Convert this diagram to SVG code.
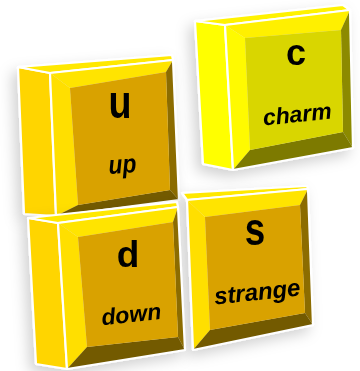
<svg xmlns="http://www.w3.org/2000/svg" width="360" height="371" viewBox="0 0 360 371">
  <defs>
    <filter id="sh" x="-30%" y="-30%" width="160%" height="160%">
      <feDropShadow dx="-5" dy="6" stdDeviation="7" flood-color="#000" flood-opacity="0.18"/>
    </filter>
  </defs>
  <style>
    .ln { stroke: #fff; stroke-width: 2.2; stroke-linejoin: round; }
    .g-side { fill: #FFD500; }
    .g-top { fill: #FFE800; }
    .g-bt { fill: #FFE400; }
    .g-bl { fill: #FFDF00; }
    .g-in { fill: #D9A200; }
    .g-br { fill: #8C6C00; }
    .g-bb { fill: #735A00; }
    .y-side { fill: #FFFF00; }
    .y-top { fill: #FFF200; }
    .y-bt { fill: #FFF000; }
    .y-bl { fill: #FFFA00; }
    .y-in { fill: #D9D600; }
    .y-br { fill: #8C8A00; }
    .y-bb { fill: #7D7A00; }
    .big { font-family: "Liberation Sans", Arial, sans-serif; font-weight: bold; fill: #000; text-anchor: middle; }
    .sm { font-family: "Liberation Sans", Arial, sans-serif; font-weight: bold; font-style: italic; fill: #000; text-anchor: middle; }
  </style>
  <rect width="360" height="371" fill="#fff"/>

  <g id="key-c" filter="url(#sh)">
    <polygon class="y-side ln" points="195,21 225,25 233,170 203,164"/>
    <polygon class="y-top ln" points="195,21 343,5 350,10 225,25"/>
    <polygon class="y-bt" points="225,25 350,10 341,30 245,38"/>
    <polygon class="y-bl" points="225,25 245,38 250,150 233,170"/>
    <polygon class="y-br" points="350,10 353,148 343,132 341,30"/>
    <polygon class="y-bb" points="233,170 353,148 343,132 250,150"/>
    <polygon class="y-in" points="245,38 341,30 343,132 250,150"/>
    <polygon fill="none" class="ln" points="225,25 350,10 353,148 233,170"/>
    <text class="big" font-size="36" x="296" y="65">c</text>
    <text class="sm" font-size="23" transform="translate(298,122) rotate(-6)">charm</text>
  </g>

  <g id="key-u" filter="url(#sh)">
    <polygon class="g-side ln" points="18,67 50,73 56,216 24,214"/>
    <polygon class="g-top ln" points="18,67 172,55 173,60 50,73"/>
    <polygon class="g-bt" points="50,73 173,60 166,72 70,88"/>
    <polygon class="g-bl" points="50,73 70,88 78,205 56,216"/>
    <polygon class="g-br" points="173,60 179,200 170,190 166,72"/>
    <polygon class="g-bb" points="56,216 179,200 170,190 78,205"/>
    <polygon class="g-in" points="70,88 166,72 170,190 78,205"/>
    <polygon fill="none" class="ln" points="50,73 173,60 179,200 56,216"/>
    <text class="big" font-size="46" transform="translate(120,118) scale(0.82,1)">u</text>
    <text class="sm" font-size="26" transform="translate(123,173) rotate(-4) scale(0.88,1)">up</text>
  </g>

  <g id="key-s" filter="url(#sh)">
    <polygon class="g-top ln" points="182,193 307,186 308,189 187,200"/>
    <polygon class="g-bt" points="187,200 308,189 300,205 205,217"/>
    <polygon class="g-bl" points="187,200 205,217 210,330 193,350"/>
    <polygon class="g-br" points="308,189 313,325 305,313 300,205"/>
    <polygon class="g-bb" points="193,350 313,325 305,313 210,330"/>
    <polygon class="g-in" points="205,217 300,205 305,313 210,330"/>
    <polygon fill="none" class="ln" points="187,200 308,189 313,325 193,350"/>
    <text class="big" font-size="46" transform="translate(255,245) scale(0.8,1)">s</text>
    <text class="sm" font-size="24" transform="translate(258,300) rotate(-6)">strange</text>
  </g>

  <g id="key-d" filter="url(#sh)">
    <polygon class="g-side ln" points="28,218 58,223 67,369 36,364"/>
    <polygon class="g-top ln" points="28,218 177,202 178,207 58,223"/>
    <polygon class="g-bt" points="58,223 178,207 173,222 78,237"/>
    <polygon class="g-bl" points="58,223 78,237 87,347 67,369"/>
    <polygon class="g-br" points="178,207 185,350 178,337 173,222"/>
    <polygon class="g-bb" points="67,369 185,350 178,337 87,347"/>
    <polygon class="g-in" points="78,237 173,222 178,337 87,347"/>
    <polygon fill="none" class="ln" points="58,223 178,207 185,350 67,369"/>
    <text class="big" font-size="37" x="128" y="267">d</text>
    <text class="sm" font-size="23" transform="translate(132,322) rotate(-6)">down</text>
  </g>
</svg>
